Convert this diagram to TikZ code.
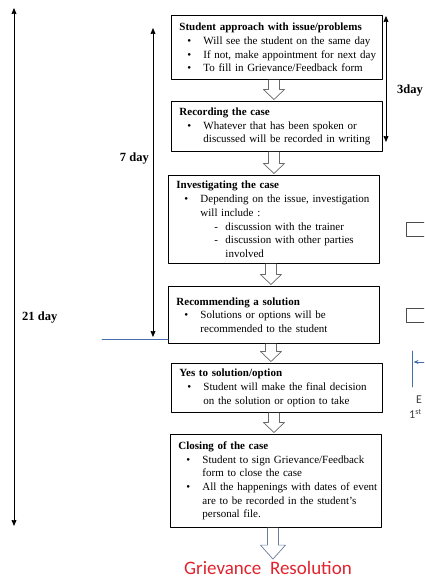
\documentclass[tikz,border=0pt]{standalone}
\usepackage{fontspec}
\setmainfont{Liberation Serif}
\newfontfamily\calibri{Carlito}
\usetikzlibrary{calc,arrows.meta,positioning}

\definecolor{arrowgray}{RGB}{105,105,105}
\definecolor{resblue}{RGB}{105,125,160}
\definecolor{lineblue}{RGB}{70,110,175}
\definecolor{resred}{RGB}{225,35,45}

\newcommand{\casetitle}[1]{\leftskip=5pt\parskip=0pt\noindent\textbf{#1}}
\newcommand{\bitem}[1]{\par\hangindent=24pt\hangafter=1\noindent\makebox[24pt][l]{\hspace{8pt}\textbullet}#1\par}
\newcommand{\ditem}[1]{\par\hangindent=49pt\hangafter=1\noindent\makebox[49pt][l]{\hspace{38pt}-}#1\par}
% hollow block arrow from one box to the next
\newcommand{\flowarrow}[5][arrowgray]{%
  \coordinate (fa-s) at ($(#2.south)+(-3,0)$);
  \coordinate (fa-e) at ($(fa-s |- #3.north)+(0,-1.5)$);
  \draw[#1, line width=0.7pt, fill=white]
    ($(fa-s)+(-5.5,0)$) -- ($(fa-e)+(-5.5,-#5)$) -- ($(fa-e)+(-#4,-#5)$) -- (fa-e)
    -- ($(fa-e)+(#4,-#5)$) -- ($(fa-e)+(5.5,-#5)$) -- ($(fa-s)+(5.5,0)$);
}

\tikzset{
  casebox/.style={draw, line width=0.9pt, anchor=north west, text width=205pt,
    inner xsep=3pt, inner ysep=0pt, align=left, font=\fontsize{11}{13.7}\selectfont},
  daylabel/.style={font=\fontsize{12.5}{15}\selectfont\bfseries, inner sep=0pt},
  dayline/.style={line width=0.7pt,
    {Stealth[length=6pt,width=5pt,inset=0.5pt]}-{Stealth[length=6pt,width=5pt,inset=0.5pt]}},
  sidebox/.style={draw=black!70, line width=0.8pt, minimum width=24pt,
    minimum height=14pt, anchor=north west, inner sep=0pt},
  sidelabel/.style={font=\calibri\fontsize{12}{14}\selectfont, text=black!75, inner sep=0pt, anchor=west},
}

\begin{document}
\begin{tikzpicture}[line cap=round,line join=round,x=1pt,y=-1pt]
\clip (0,0) rectangle (424,580);
% the six steps
\node[casebox, minimum height=64pt] (approach) at (171,15) {\casetitle{Student approach with issue/problems}
  \bitem{Will see the student on the same day}
  \bitem{If not, make appointment for next day}
  \bitem{To fill in Grievance/Feedback form}};
\node[casebox, minimum height=50pt] (recording) at (171,101) {\casetitle{Recording the case}
  \bitem{Whatever that has been spoken or\newline discussed will be recorded in writing}};
\node[casebox, minimum height=88pt] (investigate) at (168,175) {\casetitle{Investigating the case}
  \bitem{Depending on the issue, investigation\newline will include :}
  \ditem{discussion with the trainer}
  \ditem{discussion with other parties\newline involved}};
\node[casebox, minimum height=57pt] (recommend) at (168,286) {\casetitle{Recommending a solution}
  \bitem{Solutions or options will be\newline recommended to the student}};
\node[casebox, minimum height=49pt] (decision) at (171,363) {\casetitle{Yes to solution/option}
  \bitem{Student will make the final decision\newline on the solution or option to take}};
\node[casebox, minimum height=93pt] (closing) at (170,434) {\casetitle{Closing of the case}
  \bitem{Student to sign Grievance/Feedback\newline form to close the case}
  \bitem{All the happenings with dates of event\newline are to be recorded in the student’s\newline personal file.}};
\node[font=\calibri\fontsize{19}{22}\selectfont, text=resred, inner sep=0pt, anchor=base] (resolution) at (268,574) {Grievance\ \ Resolution};

\foreach \a/\b in {approach/recording,recording/investigate,investigate/recommend,recommend/decision,decision/closing}
  \flowarrow{\a}{\b}{10.5}{10};
\flowarrow[resblue]{closing}{resolution}{12.5}{14}

% time spans
\coordinate (d21top) at (14,8);
\coordinate (d21bot) at (14,526);
\coordinate (d7top) at (153,28);
\coordinate (d7bot) at (153,337);
\coordinate (d3top) at (386,16);
\coordinate (d3bot) at (386,142);
\draw[dayline] (d21top) -- (d21bot);
\draw[dayline] (d7top) -- (d7bot);
\draw[dayline] (d3top) -- (d3bot);
\node[daylabel, anchor=west] (lbl21) at (22,318) {21 day};
\node[daylabel, anchor=east] (lbl7) at (149,159) {7 day};
\node[daylabel, anchor=west] (lbl3) at (397,91) {3day};

\coordinate (cutmark) at (102,339);
\draw[lineblue, line width=0.8pt] (cutmark) -- (cutmark -| recommend.west);

% cut-off part on the right
\node[sidebox] (side1) at (406,222) {};
\node[sidebox] (side2) at (406,308) {};
\coordinate (bartop) at (412,351);
\coordinate (barbot) at (412,387);
\coordinate (ptr) at (430,362);
\draw[lineblue, line width=0.8pt] (bartop) -- (barbot);
\draw[lineblue, line width=0.8pt, -{Stealth[length=5pt,width=4pt]}] (ptr) -- ($(ptr -| bartop)+(1.5,0)$);
\node[sidelabel] (sidee) at (416,400) {E};
\node[sidelabel] (sidefirst) at (409,414) {1\textsuperscript{st}};
\end{tikzpicture}
\end{document}
